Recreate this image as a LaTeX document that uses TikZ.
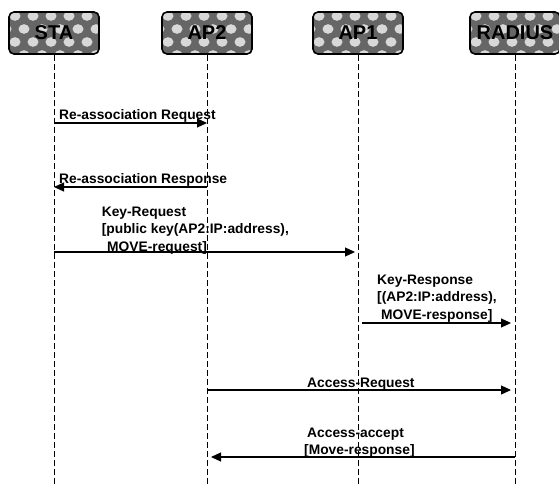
\documentclass[tikz,border=0pt]{standalone}
\usepackage{fontspec}
\setmainfont{Liberation Sans}
\usetikzlibrary{arrows.meta,calc}
\begin{document}
\begin{tikzpicture}[x=1pt,y=-1pt,
  actor/.style={draw=black, line width=1.6pt, rounded corners=5pt,
    minimum width=90pt, minimum height=42pt, inner sep=0pt, fill=black!60,
    font=\bfseries\fontsize{20}{20}\selectfont,
    path picture={
      \foreach \i in {-1,...,5}{
        \foreach \j [evaluate=\j as \xo using {mod(\j,2)*9}] in {0,...,3}{
          \fill[white, opacity=0.75] ($(path picture bounding box.north west)+({(\i*18+\xo+6)*1pt},{-(\j*13+4)*1pt})$) ellipse (5.5pt and 4.8pt);
        }}
    }},
  lifeline/.style={draw=black, line width=0.9pt, dash pattern=on 6pt off 3pt},
  msg/.style={draw=black, line width=1.2pt, -{Triangle[length=10pt,width=9pt]}},
  lbl/.style={font=\bfseries\fontsize{13.8}{17.5}\selectfont, inner sep=0pt, anchor=base west}]
\useasboundingbox (0,0) rectangle (559,484);
\node[actor] (sta) at (54,33) {STA};
\node[actor] (ap2) at (207,33) {AP2};
\node[actor] (ap1) at (358,33) {AP1};
\node[actor] (rad) at (515,33) {RADIUS};
\coordinate (bot) at (0,484);
\foreach \n in {sta,ap2,ap1,rad} \draw[lifeline] (\n.south) -- (\n.south |- bot);

% message levels
\coordinate (m1) at (0,123);
\coordinate (m2) at (0,187);
\coordinate (m3) at (0,252);
\coordinate (m4) at (0,323);
\coordinate (m5) at (0,390);
\coordinate (m6) at (0,457);

\draw[msg] (sta |- m1) -- (ap2 |- m1);
\draw[msg] (ap2 |- m2) -- (sta |- m2);
\draw[msg, shorten >=3pt] (sta |- m3) -- (ap1 |- m3);
\draw[msg, shorten <=4pt, shorten >=4pt] (ap1 |- m4) -- (rad |- m4);
\draw[msg, shorten >=4pt] (ap2 |- m5) -- (rad |- m5);
\draw[msg, shorten >=4pt] (rad |- m6) -- (ap2 |- m6);

\node[lbl] (t1) at (59,120) {Re-association Request};
\node[lbl] (t2) at (59,183) {Re-association Response};
\node[lbl] (t3a) at (101.6,216) {Key-Request};
\node[lbl] (t3b) at (101.6,233.5) {[public key(AP2:IP:address),};
\node[lbl] (t3c) at (107,251) {MOVE-request]};
\node[lbl] (t4a) at (377,284) {Key-Response};
\node[lbl] (t4b) at (377,301.5) {[(AP2:IP:address),};
\node[lbl] (t4c) at (381,319) {MOVE-response]};
\node[lbl] (t5) at (307,387) {Access-Request};
\node[lbl] (t6a) at (307,437) {Access-accept};
\node[lbl] (t6b) at (304,454) {[Move-response]};
\end{tikzpicture}
\end{document}
